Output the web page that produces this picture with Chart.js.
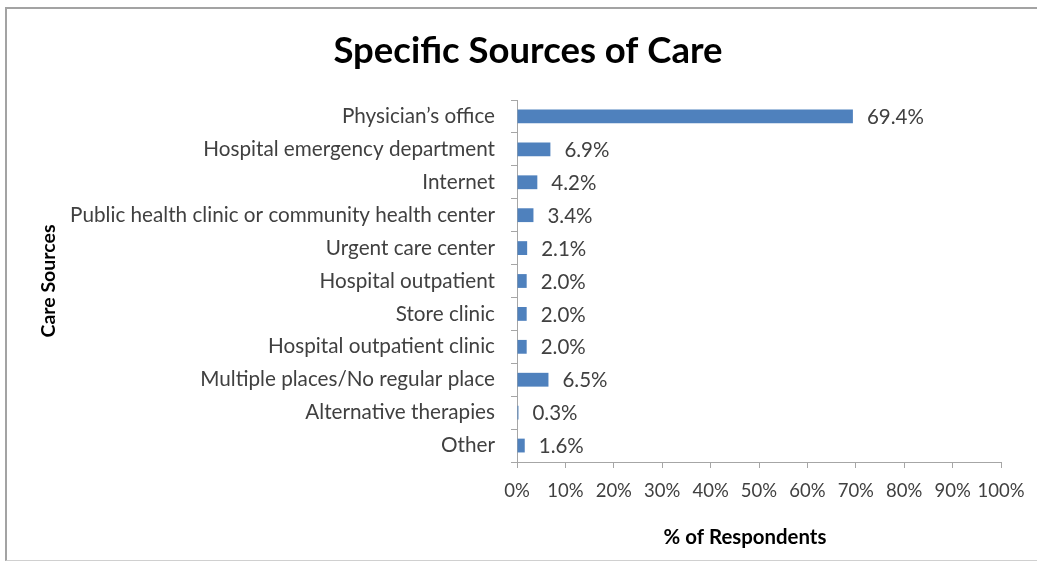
<!DOCTYPE html>
<html>
<head>
<meta charset="utf-8">
<script src="https://cdn.jsdelivr.net/npm/chart.js@4"></script>
<style>
  html, body { margin: 0; padding: 0; background: #fff; }
  #wrap { position: relative; width: 1037px; height: 562px; overflow: hidden; }
  #frame { position: absolute; left: 5px; top: 7px; width: 1040px; height: 551px;
           border-top: 2px solid #a3a3a3; border-left: 2px solid #a3a3a3; border-bottom: 1px solid #d0d0d0; }
  canvas { position: absolute; left: 0; top: 0; }
</style>
</head>
<body>
<div id="wrap">
  <div id="frame"></div>
  <canvas id="c" width="1037" height="562"></canvas>
</div>
<script>
const categories = [
  "Physician\u2019s office",
  "Hospital emergency department",
  "Internet",
  "Public health clinic or community health center",
  "Urgent care center",
  "Hospital outpatient",
  "Store clinic",
  "Hospital outpatient clinic",
  "Multiple places/No regular place",
  "Alternative therapies",
  "Other"
];
const values = [69.4, 6.9, 4.2, 3.4, 2.1, 2.0, 2.0, 2.0, 6.5, 0.3, 1.6];
const xTicks = [0, 10, 20, 30, 40, 50, 60, 70, 80, 90, 100];
const chartTitle = 'Specific Sources of Care';
const xTitle = '% of Respondents';
const yTitle = 'Care Sources';

const FONT = "Lato, 'Open Sans', sans-serif";
const AXIS_GRAY = '#a6a6a6';

const textPlugin = {
  id: 'textPlugin',
  afterDatasetsDraw(chart) {
    const ctx = chart.ctx;
    const meta = chart.getDatasetMeta(0);
    ctx.save();
    ctx.font = "20.5px " + FONT;
    ctx.fillStyle = '#404040';
    ctx.textAlign = 'left';
    ctx.textBaseline = 'middle';
    meta.data.forEach((bar, i) => {
      ctx.fillText(values[i].toFixed(1) + '%', bar.x + 14, bar.y + 1);
    });
    ctx.restore();
  },
  afterDraw(chart) {
    const ctx = chart.ctx;
    ctx.save();
    ctx.fillStyle = '#000';
    ctx.textAlign = 'center';
    ctx.textBaseline = 'middle';
    ctx.font = "bold 36.5px " + FONT;
    ctx.fillText(chartTitle, 528, 51);
    ctx.font = "bold 20.4px " + FONT;
    ctx.fillText(xTitle, 745, 537);
    ctx.restore();
  }
};

new Chart(document.getElementById('c'), {
  type: 'bar',
  data: {
    labels: categories,
    datasets: [{
      data: values,
      backgroundColor: '#4f81bd',
      borderWidth: 0,
      categoryPercentage: 1.0,
      barPercentage: 0.42
    }]
  },
  options: {
    indexAxis: 'y',
    responsive: false,
    animation: false,
    devicePixelRatio: 1,
    layout: { padding: { left: 0, right: 36, top: 100, bottom: 0 } },
    plugins: {
      legend: { display: false },
      tooltip: { enabled: false },
      title: { display: false }
    },
    scales: {
      x: {
        type: 'linear',
        min: 0,
        max: 100,
        afterBuildTicks(scale) { scale.ticks = xTicks.map(v => ({ value: v })); },
        afterFit(scale) { scale.height = 100; },
        ticks: {
          callback: v => v + '%',
          color: '#404040',
          font: { family: FONT, size: 18.5 },
          padding: 12,
          maxRotation: 0,
          autoSkip: false
        },
        grid: { display: true, drawOnChartArea: false, drawTicks: true, tickLength: 6, color: AXIS_GRAY, lineWidth: 1 },
        border: { display: true, color: AXIS_GRAY, width: 1 }
      },
      y: {
        type: 'category',
        afterFit(scale) { scale.width = 517; },
        ticks: {
          color: '#404040',
          font: { family: FONT, size: 20.7 },
          padding: 16,
          autoSkip: false
        },
        grid: { display: true, offset: true, drawOnChartArea: false, drawTicks: true, tickLength: 6, color: AXIS_GRAY, lineWidth: 1 },
        border: { display: true, color: AXIS_GRAY, width: 1 },
        title: {
          display: true,
          text: yTitle,
          color: '#000',
          font: { family: FONT, size: 19.5, weight: 'bold', lineHeight: 1.2 },
          padding: { top: 37, bottom: 37 }
        }
      }
    }
  },
  plugins: [textPlugin]
});
</script>
</body>
</html>
